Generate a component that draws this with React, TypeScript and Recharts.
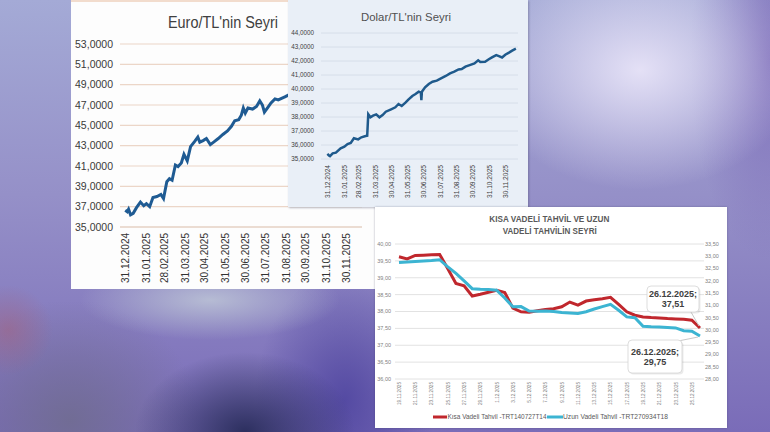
import React from 'react';
import { LineChart, Line, XAxis, YAxis, CartesianGrid, Legend, LabelList } from 'recharts';

// Euro/TL — x is days counted from 31.12.2024
const euroDays = [0, 3, 5, 8, 12, 17, 23, 28, 32, 37, 42, 48, 54, 58, 63, 67, 71, 76, 80, 85, 89, 94, 99, 105, 110, 113, 118, 123, 129, 135, 141, 148, 155, 161, 166, 172, 176, 179, 182, 186, 193, 199, 204, 208, 211, 216, 221, 227, 232, 237, 242, 248];
const euroValues = [36.65, 36.5, 36.75, 36.2, 36.35, 36.9, 37.45, 37.1, 37.3, 37.0, 37.9, 38.0, 38.2, 37.8, 39.45, 39.75, 39.6, 41.1, 40.95, 41.3, 42.15, 41.5, 42.9, 43.4, 43.85, 43.35, 43.5, 43.7, 43.1, 43.4, 43.7, 44.1, 44.45, 44.9, 45.45, 45.55, 46.0, 46.7, 46.2, 46.7, 46.6, 46.85, 47.4, 47.0, 46.3, 46.75, 47.2, 47.6, 47.5, 47.65, 47.8, 48.0];
const euroTicks = [35, 37, 39, 41, 43, 45, 47, 49, 51, 53];

// Dolar/TL — x is days counted from 31.12.2024
const dolarDays = [0, 3, 5, 10, 16, 25, 32, 38, 44, 50, 58, 64, 72, 75, 77, 81, 86, 92, 98, 104, 110, 120, 128, 134, 140, 147, 153, 160, 166, 172, 176, 177, 178, 184, 191, 198, 206, 214, 223, 231, 239, 247, 253, 260, 268, 277, 284, 288, 297, 304, 310, 318, 323, 329, 335, 342, 348, 355];
const dolarValues = [35.36, 35.25, 35.2, 35.4, 35.45, 35.76, 35.88, 36.07, 36.15, 36.48, 36.4, 36.55, 36.64, 36.66, 38.2, 37.98, 38.1, 38.19, 37.98, 38.14, 38.38, 38.55, 38.69, 38.93, 38.79, 39.02, 39.26, 39.5, 39.64, 39.81, 39.75, 39.2, 39.8, 40.12, 40.36, 40.52, 40.6, 40.76, 40.93, 41.12, 41.24, 41.4, 41.42, 41.6, 41.71, 41.83, 42.05, 41.93, 41.95, 42.12, 42.26, 42.42, 42.35, 42.25, 42.45, 42.6, 42.74, 42.88];
const dolarTicks = [35, 36, 37, 38, 39, 40, 41, 42, 43, 44];

const monthTickDays = [0, 31, 59, 90, 120, 151, 181, 212, 243, 273, 304, 334];
const monthTickLabels = ['31.12.2024', '31.01.2025', '28.02.2025', '31.03.2025', '30.04.2025', '31.05.2025', '30.06.2025', '31.07.2025', '31.08.2025', '30.09.2025', '31.10.2025', '30.11.2025'];

// Tahvil chart
const tahvilDates = ['19.11.2025', '20.11.2025', '21.11.2025', '22.11.2025', '23.11.2025', '24.11.2025', '25.11.2025', '26.11.2025', '27.11.2025', '28.11.2025', '29.11.2025', '30.11.2025', '1.12.2025', '2.12.2025', '3.12.2025', '4.12.2025', '5.12.2025', '6.12.2025', '7.12.2025', '8.12.2025', '9.12.2025', '10.12.2025', '11.12.2025', '12.12.2025', '13.12.2025', '14.12.2025', '15.12.2025', '16.12.2025', '17.12.2025', '18.12.2025', '19.12.2025', '20.12.2025', '21.12.2025', '22.12.2025', '23.12.2025', '24.12.2025', '25.12.2025', '26.12.2025'];
const kisaVadeli = [39.62, 39.56, 39.66, 39.67, 39.68, 39.69, 39.27, 38.83, 38.76, 38.46, 38.51, 38.57, 38.63, 38.56, 38.1, 37.99, 37.98, 38.02, 38.06, 38.08, 38.14, 38.28, 38.19, 38.31, 38.35, 38.38, 38.42, 38.21, 37.99, 37.89, 37.84, 37.82, 37.81, 37.79, 37.78, 37.77, 37.74, 37.51];
const uzunVadeli = [32.75, 32.77, 32.79, 32.81, 32.83, 32.86, 32.57, 32.3, 32.0, 31.68, 31.66, 31.65, 31.62, 31.3, 30.94, 30.95, 30.77, 30.76, 30.77, 30.75, 30.71, 30.69, 30.67, 30.74, 30.85, 30.95, 31.04, 30.8, 30.53, 30.5, 30.15, 30.13, 30.12, 30.1, 30.08, 29.97, 29.95, 29.75];
const kisaTicks = [36, 36.5, 37, 37.5, 38, 38.5, 39, 39.5, 40];
const uzunTicks = [28, 28.5, 29, 29.5, 30, 30.5, 31, 31.5, 32, 32.5, 33, 33.5];
const kisaName = 'Kısa Vadeli Tahvil -TRT140727T14';
const uzunName = 'Uzun Vadeli Tahvil -TRT270934T18';

const euroData = euroDays.map((d, i) => ({ day: d, value: euroValues[i] }));
const dolarData = dolarDays.map((d, i) => ({ day: d, value: dolarValues[i] }));
const tahvilData = tahvilDates.map((d, i) => ({ date: d, kisa: kisaVadeli[i], uzun: uzunVadeli[i] }));
const lastIndex = tahvilDates.length - 1;

const comma = (v: number, n: number) => v.toFixed(n).replace('.', ',');
const monthLabel = (v: number) => monthTickLabels[monthTickDays.indexOf(v)] ?? '';

function RotatedTick(props: any) {
  const { x, y, payload, size, len, color, format, weight } = props;
  const label = format ? format(payload.value) : String(payload.value);
  return (
    <text
      x={x}
      y={y}
      transform={`rotate(-90 ${x} ${y})`}
      textAnchor="end"
      dy="0.35em"
      fontSize={size}
      fontWeight={weight || 'normal'}
      fill={color}
      textLength={(len * label.length) / 10}
      lengthAdjust="spacingAndGlyphs"
    >
      {label}
    </text>
  );
}

function redCallout(p: any) {
  if (p.index !== lastIndex) return null;
  const x = Number(p.x);
  const y = Number(p.y);
  const bx = x - 53;
  const by = y - 42;
  return (
    <g>
      <line x1={x - 9} y1={by + 26} x2={x - 1} y2={y - 2} stroke="#c8c8c8" strokeWidth={1} />
      <rect x={bx + 1.5} y={by + 1.5} width={52} height={26} rx={4} fill="#000" opacity={0.08} />
      <rect x={bx} y={by} width={52} height={26} rx={4} fill="#fff" stroke="#d4d4d4" strokeWidth={0.8} />
      <text x={bx + 26} y={by + 11} textAnchor="middle" fontSize={9} fontWeight="bold" fill="#404040">{tahvilDates[p.index] + ';'}</text>
      <text x={bx + 26} y={by + 21} textAnchor="middle" fontSize={9} fontWeight="bold" fill="#404040">{comma(Number(p.value), 2)}</text>
    </g>
  );
}

function blueCallout(p: any) {
  if (p.index !== lastIndex) return null;
  const x = Number(p.x);
  const y = Number(p.y);
  const bx = x - 72;
  const by = y + 4;
  return (
    <g>
      <line x1={x - 22} y1={by + 1} x2={x - 2} y2={y + 1} stroke="#c8c8c8" strokeWidth={1} />
      <rect x={bx + 1.5} y={by + 1.5} width={54} height={33} rx={4} fill="#000" opacity={0.08} />
      <rect x={bx} y={by} width={54} height={33} rx={4} fill="#fff" stroke="#d4d4d4" strokeWidth={0.8} />
      <text x={bx + 27} y={by + 15} textAnchor="middle" fontSize={9} fontWeight="bold" fill="#404040">{tahvilDates[p.index] + ';'}</text>
      <text x={bx + 27} y={by + 25} textAnchor="middle" fontSize={9} fontWeight="bold" fill="#404040">{comma(Number(p.value), 2)}</text>
    </g>
  );
}

function TahvilLegend() {
  return (
    <svg width={352} height={14} style={{ display: 'block' }}>
      <line x1={58} y1={7} x2={72} y2={7} stroke="#c0272d" strokeWidth={3} />
      <text x={72.5} y={9.3} fontSize={6.5} fill="#595959" textLength={99} lengthAdjust="spacingAndGlyphs">{kisaName}</text>
      <line x1={172} y1={7} x2={188} y2={7} stroke="#3cb4d2" strokeWidth={3} />
      <text x={188} y={9.3} fontSize={6.5} fill="#595959" textLength={105} lengthAdjust="spacingAndGlyphs">{uzunName}</text>
    </svg>
  );
}

const bg = [
  'radial-gradient(ellipse 160px 120px at 640px 70px, rgba(232,228,248,0.95), rgba(232,228,248,0) 100%)',
  'radial-gradient(ellipse 45px 45px at 8px 330px, rgba(160,100,130,0.6), rgba(160,100,130,0) 100%)',
  'radial-gradient(ellipse 110px 80px at 245px 432px, rgba(40,44,90,0.95), rgba(40,44,90,0) 100%)',
  'radial-gradient(ellipse 130px 40px at 210px 300px, rgba(190,198,215,0.85), rgba(190,198,215,0) 100%)',
  'radial-gradient(ellipse 90px 130px at 345px 400px, rgba(80,70,160,0.9), rgba(80,70,160,0) 100%)',
  'radial-gradient(ellipse 130px 120px at 70px 420px, rgba(112,108,145,0.9), rgba(112,108,145,0) 100%)',
  'radial-gradient(ellipse 80px 200px at 770px 60px, rgba(125,108,185,0.9), rgba(125,108,185,0) 100%)',
  'linear-gradient(180deg, #a4aad6 0%, #9590c8 45%, #7a6cb8 100%)',
].join(', ');

export default function App() {
  return (
    <div
      style={{
        position: 'absolute',
        left: 0,
        top: 0,
        width: 770,
        height: 432,
        overflow: 'hidden',
        background: bg,
        fontFamily: '"Liberation Sans", Arial, sans-serif',
      }}
    >
      {/* Euro/TL panel */}
      <div style={{ position: 'absolute', left: 71, top: 0, width: 305, height: 289, background: '#fdfdfd', borderTop: '2px solid #f2dccd', boxSizing: 'border-box' }}>
        <svg width={305} height={40} style={{ position: 'absolute', left: 0, top: 0 }}>
          <text x={97} y={26} fontSize={16} fill="#404040" textLength={110} lengthAdjust="spacingAndGlyphs">Euro/TL'nin Seyri</text>
        </svg>
        <div style={{ position: 'absolute', left: 0, top: -2 }}>
          <LineChart width={305} height={289} data={euroData} margin={{ top: 44, right: 14, bottom: 6, left: 0 }}>
            <CartesianGrid vertical={false} stroke="#ecd6c8" strokeWidth={1.2} />
            <XAxis
              type="number"
              dataKey="day"
              domain={[-8, 359]}
              ticks={monthTickDays}
              interval={0}
              allowDataOverflow
              height={56}
              axisLine={{ stroke: '#e2cfc2' }}
              tickLine={false}
              tickSize={4}
              tickMargin={2}
              tick={(p: any) => <RotatedTick {...p} size={11.5} len={50} color="#333333" format={monthLabel} />}
            />
            <YAxis
              type="number"
              domain={[35, 53]}
              ticks={euroTicks}
              interval={0}
              width={49}
              axisLine={false}
              tickLine={false}
              tickMargin={1}
              tick={{ fontSize: 10.5, fill: '#3a3a3a' }}
              tickFormatter={(v: number) => comma(v, 4)}
            />
            <Line type="linear" dataKey="value" stroke="#1f5b93" strokeWidth={3} dot={false} isAnimationActive={false} />
          </LineChart>
        </div>
      </div>

      {/* Dolar/TL panel */}
      <div style={{ position: 'absolute', left: 288, top: 0, width: 240, height: 207, background: '#e9eff7', boxShadow: '1px 1px 2px rgba(60,60,90,0.35)' }}>
        <svg width={240} height={30} style={{ position: 'absolute', left: 0, top: 0 }}>
          <text x={73} y={21} fontSize={11} fill="#505050" textLength={90} lengthAdjust="spacingAndGlyphs">Dolar/TL'nin Seyri</text>
        </svg>
        <div style={{ position: 'absolute', left: 0, top: 0 }}>
          <LineChart width={240} height={207} data={dolarData} margin={{ top: 33, right: 10, bottom: 6, left: 0 }}>
            <CartesianGrid vertical={false} stroke="#d6dee9" />
            <XAxis
              type="number"
              dataKey="day"
              domain={[-12, 359]}
              ticks={monthTickDays}
              interval={0}
              allowDataOverflow
              height={42}
              axisLine={false}
              tickLine={false}
              tickSize={4}
              tickMargin={2}
              tick={(p: any) => <RotatedTick {...p} size={8} len={33} color="#404040" format={monthLabel} />}
            />
            <YAxis
              type="number"
              domain={[35, 44]}
              ticks={dolarTicks}
              interval={0}
              width={33}
              axisLine={false}
              tickLine={false}
              tickMargin={1}
              tick={{ fontSize: 6.3, fill: '#404040' }}
              tickFormatter={(v: number) => comma(v, 4)}
            />
            <Line type="linear" dataKey="value" stroke="#1f5a8c" strokeWidth={2.5} dot={false} isAnimationActive={false} />
          </LineChart>
        </div>
      </div>

      {/* Tahvil panel */}
      <div style={{ position: 'absolute', left: 375, top: 207, width: 352, height: 221, background: '#ffffff', boxShadow: '0 0 2px rgba(60,60,90,0.4)' }}>
        <svg width={352} height={36} style={{ position: 'absolute', left: 0, top: 0 }}>
          <text x={114.3} y={14.7} fontSize={8.3} fontWeight="bold" fill="#595959" textLength={120} lengthAdjust="spacingAndGlyphs">KISA VADELİ TAHVİL VE UZUN</text>
          <text x={127.7} y={26.7} fontSize={8.3} fontWeight="bold" fill="#595959" textLength={94} lengthAdjust="spacingAndGlyphs">VADELİ TAHVİLİN SEYRİ</text>
        </svg>
        <div style={{ position: 'absolute', left: 0, top: 0 }}>
          <LineChart width={352} height={221} data={tahvilData} margin={{ top: 37, right: 0, bottom: 4, left: 0 }}>
            <CartesianGrid vertical={false} yAxisId="left" stroke="#e2e2e2" />
            <XAxis
              dataKey="date"
              interval={1}
              height={31}
              padding={{ left: 4, right: 4 }}
              axisLine={false}
              tickLine={false}
              tickSize={1}
              tickMargin={2}
              tick={(p: any) => <RotatedTick {...p} size={5.5} len={23} color="#7a7a7a" />}
            />
            <YAxis
              yAxisId="left"
              type="number"
              domain={[36, 40]}
              ticks={kisaTicks}
              interval={0}
              width={20}
              axisLine={false}
              tickLine={false}
              tickSize={0}
              tickMargin={4}
              tick={{ fontSize: 5.5, fill: '#7f7f7f' }}
              tickFormatter={(v: number) => comma(v, 2)}
            />
            <YAxis
              yAxisId="right"
              orientation="right"
              type="number"
              domain={[28, 33.5]}
              ticks={uzunTicks}
              interval={0}
              width={23}
              axisLine={false}
              tickLine={false}
              tickSize={0}
              tickMargin={1}
              tick={{ fontSize: 5.5, fill: '#7f7f7f' }}
              tickFormatter={(v: number) => comma(v, 2)}
            />
            <Legend verticalAlign="bottom" height={14} wrapperStyle={{ left: 0 }} content={() => <TahvilLegend />} />
            <Line yAxisId="left" type="linear" dataKey="kisa" name={kisaName} stroke="#c0272d" strokeWidth={3} dot={false} isAnimationActive={false}>
              <LabelList dataKey="kisa" content={redCallout} />
            </Line>
            <Line yAxisId="right" type="linear" dataKey="uzun" name={uzunName} stroke="#3cb4d2" strokeWidth={3} dot={false} isAnimationActive={false}>
              <LabelList dataKey="uzun" content={blueCallout} />
            </Line>
          </LineChart>
        </div>
      </div>
    </div>
  );
}
